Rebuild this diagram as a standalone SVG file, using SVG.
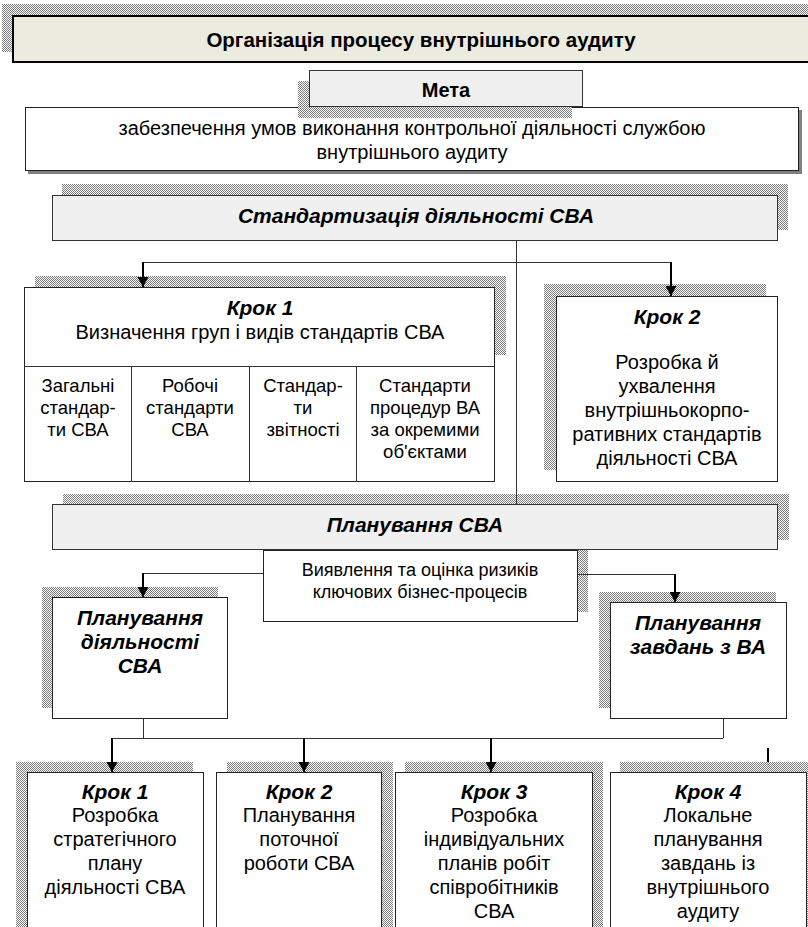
<svg xmlns="http://www.w3.org/2000/svg" width="808" height="927" viewBox="0 0 808 927">
<defs>
<pattern id="hatch" width="2" height="2" patternUnits="userSpaceOnUse">
<rect width="2" height="2" fill="#ffffff"/>
<rect x="0" y="0" width="1" height="1" fill="#7a7a7a"/>
<rect x="1" y="1" width="1" height="1" fill="#7a7a7a"/>
</pattern>
<marker id="arr" markerUnits="userSpaceOnUse" markerWidth="11" markerHeight="11" refX="10" refY="5.5" orient="auto">
<path d="M0,0 L10,5.5 L0,11 z" fill="#000"/>
</marker>
<style>
.sh{fill:url(#hatch);}
.box{fill:#ffffff;stroke:#222;stroke-width:1;}
.gbox{fill:#f0f0f0;stroke:#333;stroke-width:1;}
.t{font-family:"Liberation Sans",Arial,sans-serif;fill:#000;text-anchor:middle;}
.b{font-weight:bold;}
.bi{font-weight:bold;font-style:italic;}
.ln{fill:none;stroke:#333;stroke-width:1;}
.ar{fill:none;stroke:#000;stroke-width:2;marker-end:url(#arr);}
</style>
</defs>
<rect width="808" height="927" fill="#ffffff"/>

<g id="title">
<rect class="sh" x="2" y="4" width="810" height="48"/>
<rect x="13" y="16" width="800" height="46" fill="#ebebe0" stroke="#000" stroke-width="2"/>
<text class="t b" x="421" y="47" font-size="20.5">Організація процесу внутрішнього аудиту</text>
</g>

<g id="goal-text">
<rect x="28" y="110" width="774" height="64" fill="#808080"/>
<rect class="box" x="25.5" y="107.5" width="773" height="63"/>
<text class="t" x="412" y="135" font-size="20">забезпечення умов виконання контрольної діяльності службою</text>
<text class="t" x="412" y="159" font-size="20">внутрішнього аудиту</text>
</g>

<g id="goal">
<rect class="sh" x="298" y="81" width="274" height="37"/>
<rect class="gbox" x="309.5" y="70.5" width="273" height="36"/>
<text class="t b" x="446" y="96.5" font-size="20">Мета</text>
</g>

<g id="standardization">
<rect class="sh" x="62" y="184" width="726" height="46"/>
<rect class="gbox" x="52.5" y="195.5" width="725" height="45"/>
<text class="t bi" x="416" y="223" font-size="21">Стандартизація діяльності СВА</text>
</g>

<g id="std-step1">
<rect class="sh" x="35" y="276" width="471" height="79"/>
<rect class="box" x="24.5" y="287.5" width="470" height="194"/>
<line class="ln" x1="24" y1="366.5" x2="495" y2="366.5"/>
<line class="ln" x1="131.5" y1="366" x2="131.5" y2="482"/>
<line class="ln" x1="249.5" y1="366" x2="249.5" y2="482"/>
<line class="ln" x1="356.5" y1="366" x2="356.5" y2="482"/>
<text class="t bi" x="260" y="314.5" font-size="21">Крок 1</text>
<text class="t" x="260" y="339" font-size="20">Визначення груп і видів стандартів СВА</text>
<text class="t" font-size="18.5"><tspan x="78" y="392">Загальні</tspan><tspan x="78" y="414">стандар-</tspan><tspan x="78" y="436">ти СВА</tspan></text>
<text class="t" font-size="18.5"><tspan x="190" y="392">Робочі</tspan><tspan x="190" y="414">стандарти</tspan><tspan x="190" y="436">СВА</tspan></text>
<text class="t" font-size="18.5"><tspan x="303" y="392">Стандар-</tspan><tspan x="303" y="414">ти</tspan><tspan x="303" y="436">звітності</tspan></text>
<text class="t" font-size="18.5"><tspan x="425" y="392">Стандарти</tspan><tspan x="425" y="414">процедур ВА</tspan><tspan x="425" y="436">за окремими</tspan><tspan x="425" y="458">об'єктами</tspan></text>
</g>

<g id="std-step2">
<rect class="sh" x="544" y="284" width="222" height="186"/>
<rect class="box" x="556.5" y="296.5" width="221" height="185"/>
<text class="t bi" x="667" y="324" font-size="21">Крок 2</text>
<text class="t" font-size="20"><tspan x="667" y="369">Розробка й</tspan><tspan x="667" y="393">ухвалення</tspan><tspan x="667" y="417">внутрішньокорпо-</tspan><tspan x="667" y="441">ративних стандартів</tspan><tspan x="667" y="465">діяльності СВА</tspan></text>
</g>

<g id="risk">
<rect class="sh" x="273" y="540" width="315" height="72"/>
</g>

<g id="planning">
<rect class="sh" x="63" y="494" width="726" height="46"/>
<rect class="gbox" x="52.5" y="504.5" width="725" height="45"/>
<text class="t bi" x="415" y="532" font-size="21">Планування СВА</text>
</g>

<g id="risk-box">
<rect class="box" x="263.5" y="550.5" width="314" height="71" stroke="#000"/>
<text class="t" x="420" y="575.5" font-size="18">Виявлення та оцінка ризиків</text>
<text class="t" x="420" y="597.5" font-size="18">ключових бізнес-процесів</text>
</g>

<g id="plan-activity">
<rect class="sh" x="42" y="587" width="176" height="121"/>
<rect class="box" x="52.5" y="597.5" width="175" height="121"/>
<text class="t bi" font-size="21"><tspan x="140" y="624.5">Планування</tspan><tspan x="140" y="648.5">діяльності</tspan><tspan x="140" y="672.5">СВА</tspan></text>
</g>

<g id="plan-tasks">
<rect class="sh" x="599" y="592" width="177" height="116"/>
<rect class="box" x="610.5" y="602.5" width="176" height="116"/>
<text class="t bi" font-size="21"><tspan x="698" y="630">Планування</tspan><tspan x="698" y="654">завдань з ВА</tspan></text>
</g>

<g id="plan-step1">
<rect class="sh" x="16" y="762" width="177" height="170"/>
<rect class="box" x="27.5" y="772.5" width="176" height="170"/>
<text class="t" font-size="20"><tspan class="bi" font-size="21" x="115" y="799">Крок 1</tspan><tspan x="115" y="822">Розробка</tspan><tspan x="115" y="846">стратегічного</tspan><tspan x="115" y="870">плану</tspan><tspan x="115" y="894">діяльності СВА</tspan></text>
</g>

<g id="plan-step2">
<rect class="sh" x="227" y="762" width="166" height="170"/>
<rect class="box" x="216.5" y="772.5" width="165" height="170"/>
<text class="t" font-size="20"><tspan class="bi" font-size="21" x="299" y="799">Крок 2</tspan><tspan x="299" y="822">Планування</tspan><tspan x="299" y="846">поточної</tspan><tspan x="299" y="870">роботи СВА</tspan></text>
</g>

<g id="plan-step3">
<rect class="sh" x="405" y="762" width="198" height="170"/>
<rect class="box" x="395.5" y="772.5" width="197" height="170"/>
<text class="t" font-size="20"><tspan class="bi" font-size="21" x="494" y="799">Крок 3</tspan><tspan x="494" y="822">Розробка</tspan><tspan x="494" y="846">індивідуальних</tspan><tspan x="494" y="870">планів робіт</tspan><tspan x="494" y="894">співробітників</tspan><tspan x="494" y="918">СВА</tspan></text>
</g>

<g id="plan-step4">
<rect class="sh" x="620" y="762" width="197" height="170"/>
<rect class="box" x="610.5" y="772.5" width="196" height="170"/>
<text class="t" font-size="20"><tspan class="bi" font-size="21" x="708" y="799">Крок 4</tspan><tspan x="708" y="822">Локальне</tspan><tspan x="708" y="846">планування</tspan><tspan x="708" y="870">завдань із</tspan><tspan x="708" y="894">внутрішнього</tspan><tspan x="708" y="918">аудиту</tspan></text>
</g>

<g id="connectors">
<line class="ln" x1="516.5" y1="241" x2="516.5" y2="504"/>
<line class="ln" x1="143" y1="262.5" x2="671" y2="262.5"/>
<line class="ar" x1="143" y1="262" x2="143" y2="287"/>
<line class="ar" x1="671" y1="262" x2="671" y2="296"/>
<polyline class="ln" points="263,573.5 143,573.5"/>
<line class="ar" x1="143" y1="573" x2="143" y2="597"/>
<polyline class="ln" points="578,574.5 675,574.5"/>
<line class="ar" x1="675" y1="574" x2="675" y2="602"/>
<line class="ln" x1="143.5" y1="719" x2="143.5" y2="738"/>
<line class="ln" x1="723.5" y1="719" x2="723.5" y2="738"/>
<line class="ln" x1="112" y1="738.5" x2="723" y2="738.5"/>
<line class="ar" x1="112" y1="738" x2="112" y2="772"/>
<line class="ar" x1="304" y1="738" x2="304" y2="772"/>
<line class="ar" x1="491" y1="738" x2="491" y2="772"/>
<line x1="768" y1="748" x2="768" y2="762" stroke="#000" stroke-width="2"/>
</g>
</svg>
